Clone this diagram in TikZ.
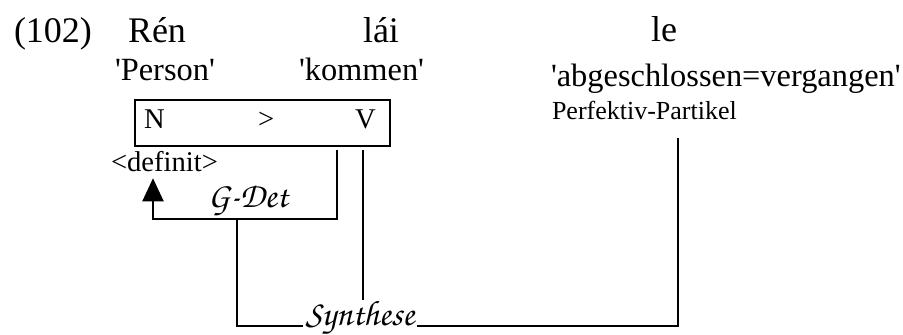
\documentclass[tikz,border=0pt]{standalone}
\usepackage{fontspec}
\setmainfont{Liberation Serif}
\newfontfamily\chorus{texgyrechorus-mediumitalic.otf}
\usepackage{tikz}
\usetikzlibrary{arrows.meta,positioning}
\newcommand{\q}{\textquotesingle}

\begin{document}
\begin{tikzpicture}[x=0.5pt,y=-0.5pt,line width=1pt,
                    every node/.style={inner sep=0pt,anchor=base west},
                    word/.style={font=\fontsize{18}{21}\selectfont},
                    gloss/.style={font=\fontsize{16.2}{19}\selectfont},
                    cat/.style={font=\fontsize{14.3}{17}\selectfont},
                    rule/.style={font=\chorus\fontsize{17.7}{21}\selectfont},
                    up/.style={-{Triangle[width=10.5pt,length=11.5pt]}}]
  \useasboundingbox (0,0) rectangle (903,335);

  % example line
  \node[word] (num) at (13,43) {(102)};
  \node[word] (ren) at (127,43) {Rén};
  \node[word] (lai) at (362,43) {lái};
  \node[word] (le) at (650,42) {le};

  % glosses
  \node[gloss] (person) at (114,81) {\q Person\q};
  \node[gloss] (kommen) at (298,81) {\q kommen\q};
  \node[gloss] (vergangen) at (550,87) {\q abgeschlossen=vergangen\q};
  \node[cat,font=\fontsize{13}{15}\selectfont] (perf) at (551,120) {Perfektiv-Partikel};

  % N > V
  \node[draw,anchor=north west,minimum width=127.5pt,minimum height=23pt] (box) at (134,99) {};
  \node[cat] (n) at (143,129) {N};
  \node[cat] (gt) at (257,129) {>};
  \node[cat] (v) at (354,129) {V};
  \node[cat] (definit) at (110,172) {<definit>};

  \coordinate (gdtop) at (337,150);
  \coordinate (gdend) at (153,219);
  \coordinate (sydrop) at (237,219);
  \coordinate (vtop) at (363,150);
  \coordinate (vbot) at (363,300);
  \coordinate (perfbot) at (678,138);

  \node[rule] (gdet) at (207,208) {G-Det};
  \node[rule,anchor=base,inner xsep=1pt] (syn) at (360,326) {Synthese};

  \draw[up] (gdtop) |- (gdend) -- ([yshift=-2.5pt]definit.south -| gdend);
  \draw (vtop) -- (vbot);
  \draw (sydrop) |- (syn.base west);
  \draw (syn.base east) -| (perfbot);
\end{tikzpicture}
\end{document}
